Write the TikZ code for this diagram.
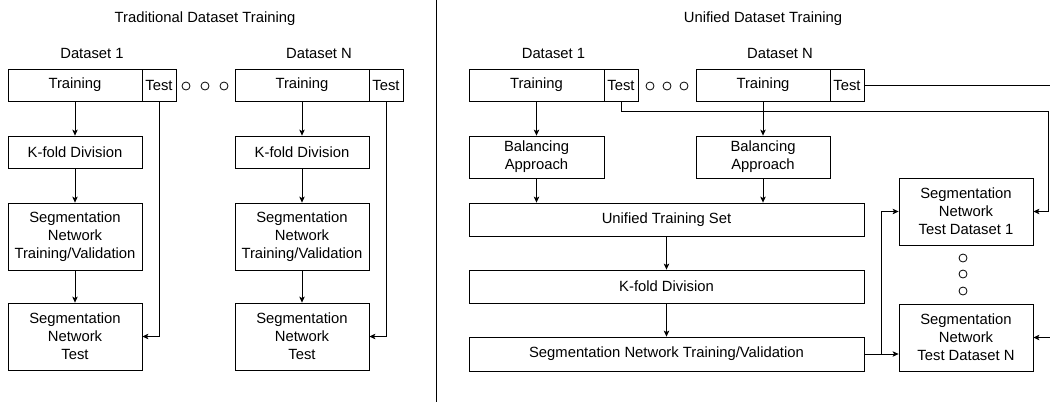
\documentclass[tikz,border=0pt]{standalone}
\usepackage{fontspec}
\setmainfont{Liberation Sans}
\usetikzlibrary{arrows.meta}

\begin{document}
\begin{tikzpicture}[x=1pt,y=-1pt,line width=0.8pt,
	font=\fontsize{14.8}{18}\selectfont,
	box/.style={draw,rectangle,inner sep=0pt,align=center,minimum width=134,minimum height=32},
	testbox/.style={box,minimum width=34},
	tallbox/.style={box,minimum height=67},
	widebox/.style={box,minimum width=395,minimum height=33},
	arr/.style={-{Stealth[length=6pt,width=5.5pt,inset=1.5pt]}}]
			\useasboundingbox (0,0) rectangle (1050,402);
			% traditional
			\node (title1) at (205,19) {Traditional Dataset Training};
			\node (ds1) at (92,53) {Dataset 1};
			\node (dsN) at (319,53) {Dataset N};
			\node[box] (tr1) at (75,85) {Training};
			\node[testbox] (te1) at (159,85) {Test};
			\node[box] (trN) at (302,85) {Training};
			\node[testbox] (teN) at (386,85) {Test};
			\node[box] (kf1) at (75,152) {K-fold Division};
			\node[box] (kfN) at (302,152) {K-fold Division};
			\node[tallbox] (sn1) at (75,236.5) {Segmentation\\Network\\Training/Validation};
			\node[tallbox] (snN) at (302,236.5) {Segmentation\\Network\\Training/Validation};
			\node[tallbox] (st1) at (75,336.5) {Segmentation\\Network\\Test};
			\node[tallbox] (stN) at (302,336.5) {Segmentation\\Network\\Test};
			\foreach \x in {186,205,224} \draw (\x,86) circle[radius=4];
			\draw[arr] (tr1) -- (kf1);
			\draw[arr] (kf1) -- (sn1);
			\draw[arr] (sn1) -- (st1);
			\draw[arr] (te1.south) |- (st1.east);
			\draw[arr] (trN) -- (kfN);
			\draw[arr] (kfN) -- (snN);
			\draw[arr] (snN) -- (stN);
			\draw[arr] (teN.south) |- (stN.east);

			\draw (436,0) -- (436,402);

			% unified
			\node (title2) at (763,19) {Unified Dataset Training};
			\node (uds1) at (553.5,53) {Dataset 1};
			\node (udsN) at (780,53) {Dataset N};
			\node[box,minimum width=135] (utr1) at (536.5,85) {Training};
			\node[testbox] (ute1) at (621,85) {Test};
			\node[box] (utrN) at (763,85) {Training};
			\node[testbox] (uteN) at (847,85) {Test};
			\node[box,minimum width=135,minimum height=42] (ba1) at (536.5,157) {Balancing\\Approach};
			\node[box,minimum height=42] (baN) at (763,157) {Balancing\\Approach};
			\node[widebox] (uni) at (666.5,219.5) {Unified Training Set};
			\node[widebox] (ukf) at (666.5,286.5) {K-fold Division};
			\node[widebox,minimum height=34] (usn) at (666.5,354) {Segmentation Network Training/Validation};
			\node[tallbox] (sd1) at (966,211.5) {Segmentation\\Network\\Test Dataset 1};
			\node[tallbox] (sdN) at (966,337.5) {Segmentation\\Network\\Test Dataset N};
			\foreach \x in {650,667,684} \draw (\x,86) circle[radius=4];
			\foreach \y in {258,274,291} \draw (963,\y) circle[radius=4];
			\draw[arr] (utr1) -- (ba1);
			\draw[arr] (utrN) -- (baN);
			\draw[arr] (ba1) -- (ba1 |- uni.north);
			\draw[arr] (baN) -- (baN |- uni.north);
			\draw[arr] (uni) -- (ukf);
			\draw[arr] (ukf) -- (usn);
			\draw[arr] (usn.east) -- (usn.east -| sdN.west);
			\coordinate (split) at (881,354);
			\draw[arr] (split) |- (sd1.west);
			\coordinate (back1) at (1048,111);
			\draw[arr] (ute1.south) |- (back1) |- (sd1.east);
			\coordinate (backN) at (1053,85);
			\draw[arr] (uteN.east) -- (backN) |- (sdN.east);
		\end{tikzpicture}
\end{document}
